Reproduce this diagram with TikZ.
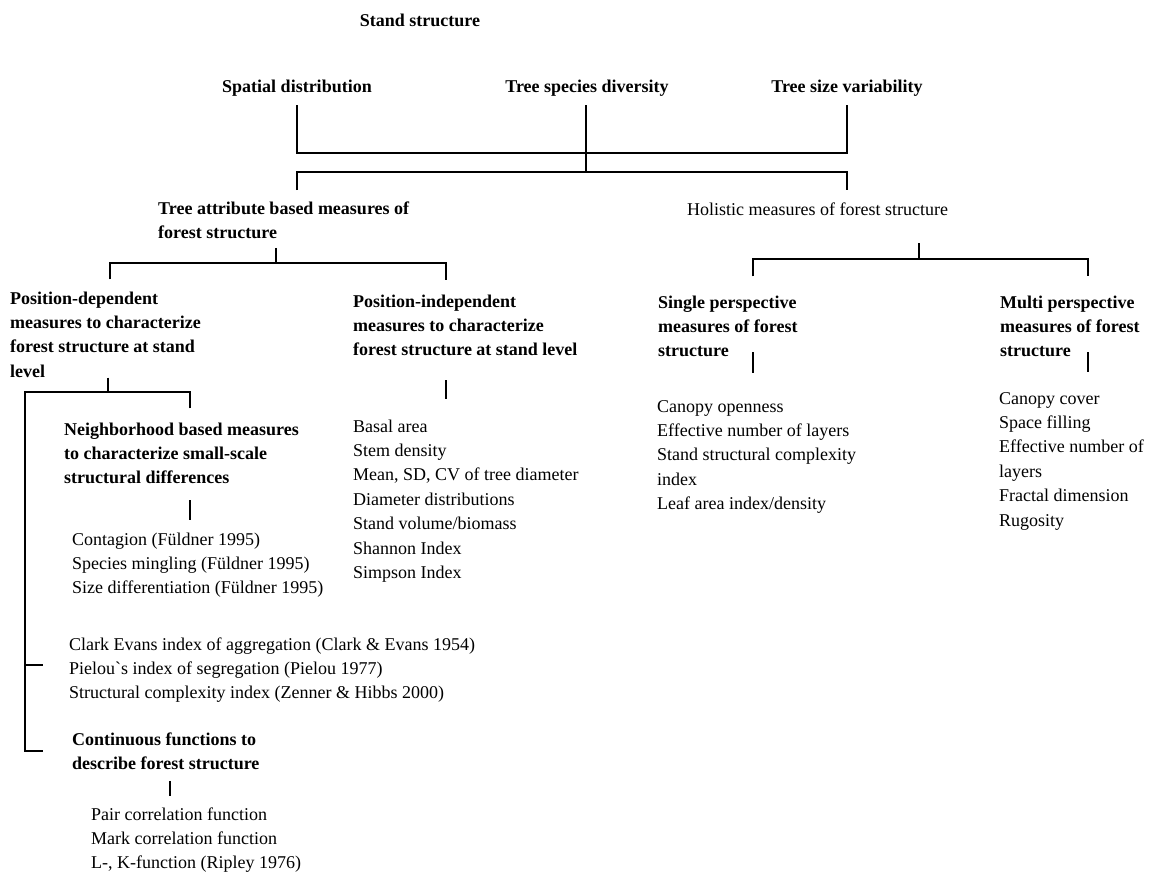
\documentclass[tikz,border=0pt]{standalone}
\usepackage{fontspec}
\setmainfont{Liberation Serif}
\usetikzlibrary{positioning,calc}

\begin{document}
\begin{tikzpicture}[
  x=1pt, y=-1pt,
  every node/.style={inner sep=0pt, font=\fontsize{18}{24.4}\selectfont},
  txtnode/.style={align=left, anchor=base west},
  headnode/.style={align=left, anchor=base west, font=\fontsize{18}{24.4}\selectfont\bfseries},
  link/.style={draw=black, line width=1.2pt}
]
\useasboundingbox (0,0) rectangle (1165,879);

%Nodes top (base = last line)
\node[headnode, anchor=base] (stand) at (420,26) {Stand structure};
\node[headnode, anchor=base] (spatial) at (297,92) {Spatial distribution};
\node[headnode, anchor=base] (species) at (587,92) {Tree species diversity};
\node[headnode, anchor=base] (size) at (847,92) {Tree size variability};

\node[headnode] (attrib) at (158,238.4) {Tree attribute based measures of\\forest structure};
\node[txtnode] (holist) at (687,215) {Holistic measures of forest structure};

%Nodes second level
\node[headnode] (posdep) at (10,377.2) {Position-dependent\\measures to characterize\\forest structure at stand\\level};
\node[headnode] (posind) at (353,355.8) {Position-independent\\measures to characterize\\forest structure at stand level};
\node[headnode] (single) at (658,356.8) {Single perspective\\measures of forest\\structure};
\node[headnode] (multi) at (1000,356.8) {Multi perspective\\measures of forest\\structure};

%Nodes lists
\node[headnode] (neigh) at (64,483.8) {Neighborhood based measures\\to characterize small-scale\\structural differences};
\node[txtnode] (neighlist) at (72,593.8) {Contagion (Füldner 1995)\\Species mingling (Füldner 1995)\\Size differentiation (Füldner 1995)};
\node[txtnode] (indexlist) at (69,698.8) {Clark Evans index of aggregation (Clark \& Evans 1954)\\Pielou\textasciigrave s index of segregation (Pielou 1977)\\Structural complexity index (Zenner \& Hibbs 2000)};
\node[headnode] (contin) at (72,769.4) {Continuous functions to\\describe forest structure};
\node[txtnode] (continlist) at (91,868.8) {Pair correlation function\\Mark correlation function\\L-, K-function (Ripley 1976)};
\node[txtnode] (posindlist) at (353,578.4) {Basal area\\Stem density\\Mean, SD, CV of tree diameter\\Diameter distributions\\Stand volume/biomass\\Shannon Index\\Simpson Index};
\node[txtnode] (singlelist) at (657,509.6) {Canopy openness\\Effective number of layers\\Stand structural complexity\\index\\Leaf area index/density};
\node[txtnode] (multilist) at (999,526) {Canopy cover\\Space filling\\Effective number of\\layers\\Fractal dimension\\Rugosity};

%Junctions
\coordinate (top-l) at (297,153);
\coordinate (top-r) at (847,153);
\coordinate (mid-c) at (586,172);
\coordinate (mid-l) at (297,172);
\coordinate (mid-r) at (847,172);
\coordinate (ta-bar) at (276,263);
\coordinate (ta-l) at (110,263);
\coordinate (ta-r) at (446,263);
\coordinate (ho-bar) at (919,259);
\coordinate (ho-l) at (753,259);
\coordinate (ho-r) at (1088,259);
\coordinate (pd-bar) at (108,392);
\coordinate (pd-l) at (25,392);
\coordinate (pd-r) at (190,392);
\coordinate (cf-x) at (170,0);

%Lines
\draw[link] ($(spatial.south)+(0,9)$) -- (top-l) -- (top-r) -- ($(size.south)+(0,9)$);
\draw[link] ($(species.south -| mid-c)+(0,9)$) -- (mid-c);
\draw[link] ($(attrib.north -| mid-l)+(0,-11)$) |- (mid-r) -- ($(holist.north -| mid-r)+(0,-12)$);

\draw[link] ($(attrib.south -| ta-bar)+(0,9)$) -- (ta-bar);
\draw[link] ($(posdep.north -| ta-l)+(0,-12)$) |- (ta-r) -- ($(posind.north -| ta-r)+(0,-14)$);
\draw[link] ($(holist.south -| ho-bar)+(0,28)$) -- (ho-bar);
\draw[link] ($(single.north -| ho-l)+(0,-19)$) |- (ho-r) -- ($(multi.north -| ho-r)+(0,-19)$);

\draw[link] (posdep.south -| pd-bar) -- (pd-bar);
\draw[link] ($(neigh.north -| pd-r)+(0,-14)$) |- (pd-l) |- ($(contin.west)+(-29,0)$);
\draw[link] ($(pd-l |- indexlist.west)+(0,-5)$) -- ($(indexlist.west)+(-26,-5)$);

\draw[link] ($(posind.south -| ta-r)+(0,24)$) -- ($(posindlist.north -| ta-r)+(0,-20)$);
\draw[link] ($(neigh.south -| pd-r)+(0,16)$) -- ($(neighlist.north -| pd-r)+(0,-12)$);
\draw[link] ($(single.south -| ho-l)+(0,-5)$) -- ($(singlelist.north -| ho-l)+(0,-27)$);
\draw[link] ($(multi.south -| ho-r)+(0,-5)$) -- ($(multilist.north -| ho-r)+(0,-20)$);
\draw[link] ($(contin.south -| cf-x)+(0,11)$) -- ($(continlist.north -| cf-x)+(0,-11)$);
\end{tikzpicture}
\end{document}
